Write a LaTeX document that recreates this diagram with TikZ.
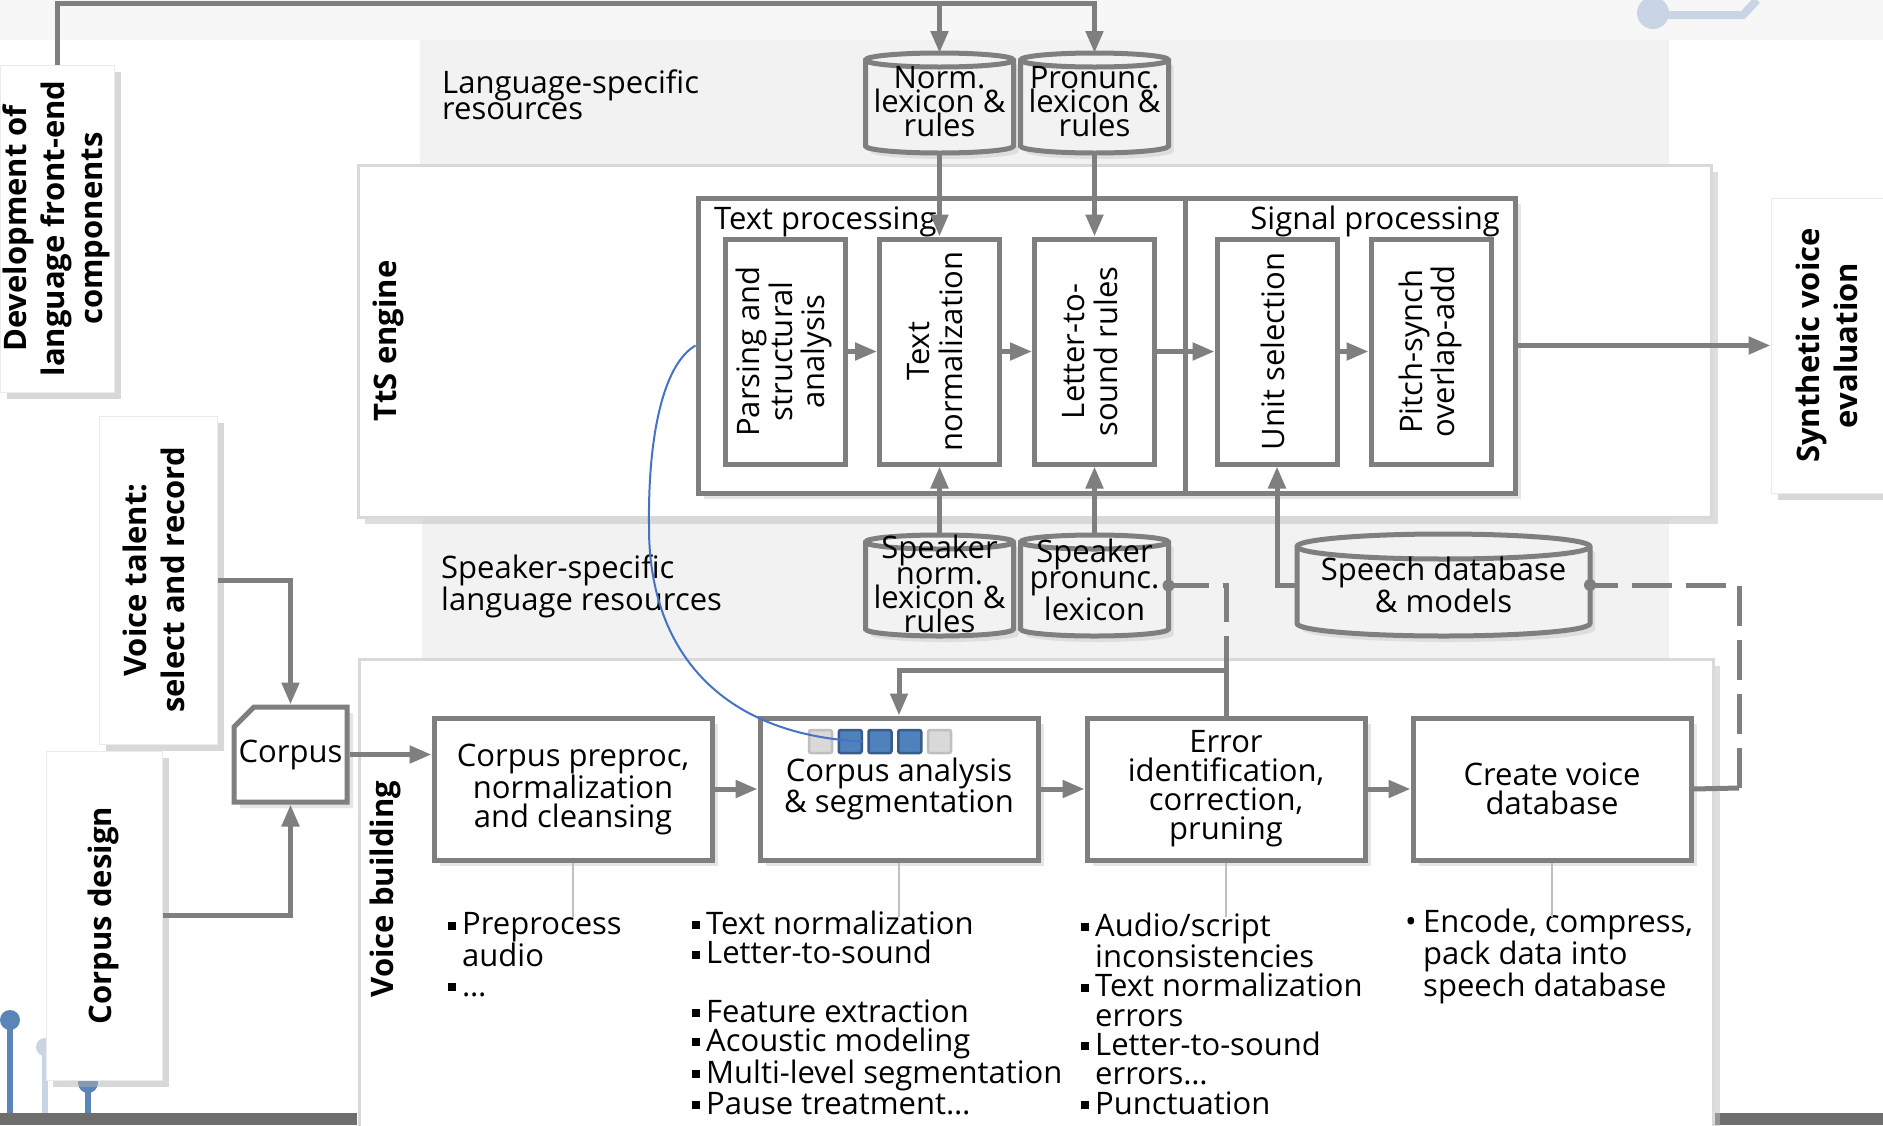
\documentclass[tikz,border=0pt]{standalone}
\usepackage{fontspec}
\usepackage{graphicx}
\setmainfont{Open Sans}
\usetikzlibrary{arrows.meta,shadows}

\definecolor{linegray}{HTML}{7F7F7F}
\definecolor{bandgray}{HTML}{F2F2F2}
\definecolor{topgray}{HTML}{F7F7F7}
\definecolor{framegray}{HTML}{D9D9D9}
\definecolor{tickgray}{HTML}{BFBFBF}
\definecolor{curveblue}{HTML}{4472C4}
\definecolor{sqblue}{HTML}{4F81BD}
\definecolor{sqblueborder}{HTML}{385D8A}
\definecolor{decoblue}{HTML}{5B84B8}
\definecolor{decolight}{HTML}{C9D5E4}
\definecolor{bargray}{HTML}{6E6E6E}

\newcommand{\vtext}[1]{\rotatebox{90}{\begin{tabular}{@{}c@{}}#1\end{tabular}}}
\newcommand{\sqbullet}{\rule[5pt]{8pt}{8pt}\hspace{6pt}}
\newcommand{\rdbullet}{\makebox[18pt][l]{•}}
% database drum drawn round a named node: name, x radius, y radius
\newcommand{\drum}[3]{%
    \draw[wire, fill=bandgray, drop shadow={shadow xshift=5pt, shadow yshift=-6pt, fill=black!20}]
        ([yshift=-#3]#1.north west) -- ([yshift=#3]#1.south west)
        arc[start angle=180, end angle=360, x radius=#2, y radius=#3]
        -- ([yshift=-#3]#1.north east)
        arc[start angle=0, end angle=180, x radius=#2, y radius=#3] -- cycle;
    \draw[wire] ([yshift=-#3]#1.north west) arc[start angle=180, end angle=360, x radius=#2, y radius=#3];}

\begin{document}
\begin{tikzpicture}[x=1pt, y=-1pt, >={Triangle[length=22pt,width=17pt]},
    every node/.style={font=\fontsize{31}{29}\selectfont, inner sep=0pt},
    wire/.style={draw=linegray, line width=5pt},
    dashwire/.style={wire, dash pattern=on 40pt off 14pt},
    tickline/.style={draw=tickgray, line width=1.5pt},
    bigframe/.style={draw=framegray, line width=3pt, fill=white,
        drop shadow={shadow xshift=7pt, shadow yshift=-7pt, fill=black!25}},
    labelbox/.style={draw=black!8, line width=1pt, fill=white,
        font=\bfseries\fontsize{31}{38}\selectfont,
        drop shadow={shadow xshift=7pt, shadow yshift=-7pt, fill=black!30}},
    sectext/.style={rotate=90, font=\bfseries\fontsize{31}{38}\selectfont},
    procbox/.style={draw=linegray, line width=5pt, fill=white, align=center,
        minimum width=278, minimum height=142,
        drop shadow={shadow xshift=6pt, shadow yshift=-6pt, fill=black!20}},
    subbox/.style={draw=linegray, line width=5pt, fill=white,
        minimum width=120, minimum height=225, font=\fontsize{31}{30}\selectfont},
    dbspot/.style={outer sep=0pt},
    cyltext/.style={anchor=base, align=center, font=\fontsize{31}{24}\selectfont},
    bandtext/.style={anchor=base west, align=left, font=\fontsize{31}{24}\selectfont},
    listtext/.style={anchor=base west, align=left, font=\fontsize{31}{29.3}\selectfont},
    sqon/.style={draw=sqblueborder, fill=sqblue, line width=2.5pt, minimum size=23pt, rounded corners=2pt},
    sqoff/.style={draw=tickgray, fill=framegray, line width=2.5pt, minimum size=23pt, rounded corners=2pt}]

    % Background
    \fill[white] (0,0) rectangle (1883,1125);
    \useasboundingbox (0,0) rectangle (1883,1125);
    \fill[topgray] (0,0) rectangle (1883,40);
    \fill[decolight] (1653,13) circle (16);
    \draw[decolight, line width=8pt] (1653,15) -- (1743,15) -- (1757,0);
    \draw[decoblue, line width=6pt] (10,1020) -- (10,1125);
    \fill[decoblue] (10,1020) circle (10);
    \draw[decolight, line width=6pt] (45,1047) -- (45,1113);
    \fill[decolight] (45,1047) circle (9);
    \draw[decoblue, line width=6pt] (88,1083) -- (88,1113);
    \fill[decoblue] (88,1083) circle (10);
    \fill[bargray] (0,1113) rectangle (357,1125);
    \fill[bargray] (1714,1113) rectangle (1883,1125);
    \fill[bandgray] (420,40) rectangle (1669,165);
    \fill[bandgray] (422,517) rectangle (1669,659);

    % Frames
    \node[bigframe, minimum width=1353, minimum height=352] at (1034.5,341) (ttsbox) {};
    \node[bigframe, minimum width=1354, minimum height=476] at (1036,897) (vbbox) {};
    \node[sectext] at (388,341) (ttslabel) {TtS engine};
    \node[sectext] at (385,889) (vblabel) {Voice building};
    \node[bandtext] at (442,119) (langres) {Language-specific\\resources};
    \node[bandtext] at (441,610) (spkres) {Speaker-specific\\language resources};

    % Side boxes
    \node[labelbox, minimum width=114, minimum height=327] at (57,228.5) (devbox)
        {\vtext{Development of\\language front-end\\components}};
    \node[labelbox, minimum width=118, minimum height=328] at (158,580) (talentbox)
        {\vtext{Voice talent:\\select and record}};
    \node[labelbox, minimum width=116, minimum height=329] at (104,915.5) (designbox)
        {\vtext{Corpus design}};
    \node[labelbox, minimum width=119, minimum height=295] at (1830.5,345.5) (synthbox)
        {\vtext{Synthetic voice\\evaluation}};

    % TtS engine
    \node[draw=linegray, line width=5pt, fill=white, minimum width=817, minimum height=295,
        drop shadow={shadow xshift=6pt, shadow yshift=-6pt, fill=black!20}] at (1106.5,345.5) (innerbox) {};
    \draw[wire] (1185,198) -- (1185,493);
    \node[anchor=base west] at (714,229) (textproc) {Text processing};
    \node[anchor=base east] at (1500,229) (sigproc) {Signal processing};
    \node[subbox] at (785,351.5) (parsing) {\vtext{Parsing and\\structural\\analysis}};
    \node[subbox] at (939.5,351.5) (textnorm) {\vtext{Text\\normalization}};
    \node[subbox] at (1094.5,351.5) (l2s) {\vtext{Letter-to-\\sound rules}};
    \node[subbox] at (1277,351.5) (unitsel) {\vtext{Unit selection}};
    \node[subbox] at (1431,351.5) (pitch) {\vtext{Pitch-synch\\overlap-add}};

    % Resources
    \node[dbspot, minimum width=148, minimum height=100] at (939.5,103) (normlex) {};
    \node[dbspot, minimum width=148, minimum height=100] at (1094.5,103) (pronlex) {};
    \node[dbspot, minimum width=148, minimum height=101] at (939.5,585.5) (spknorm) {};
    \node[dbspot, minimum width=148, minimum height=101] at (1094.5,585.5) (spkpron) {};
    \node[dbspot, minimum width=293, minimum height=102] at (1443.5,585) (speechdb) {};
    \drum{normlex}{74pt}{7pt}
    \drum{pronlex}{74pt}{7pt}
    \drum{spknorm}{74pt}{7pt}
    \drum{spkpron}{74pt}{7pt}
    \drum{speechdb}{146.5pt}{12.5pt}
    \node[cyltext] at (939.5,136) (normlextext) {Norm.\\lexicon \&\\rules};
    \node[cyltext] at (1094.5,136) (pronlextext) {Pronunc.\\lexicon \&\\rules};
    \node[cyltext] at (939.5,632) (spknormtext) {Speaker\\norm.\\lexicon \&\\rules};
    \node[cyltext] at (1094.5,620) (spkprontext) {Speaker\\pronunc.\\lexicon};
    \node[cyltext, font=\fontsize{31}{29}\selectfont] at (1443.5,612) (speechdbtext) {Speech database\\\& models};

    % Voice building
    \draw[wire, fill=white, drop shadow={shadow xshift=6pt, shadow yshift=-6pt, fill=black!20}]
        (254,707) -- (347,707) -- (347,802) -- (234,802) -- (234,727) -- cycle;
    \node[minimum width=113, minimum height=95, outer sep=2.5pt] at (290.5,754.5) (corpus) {\raisebox{-10pt}{Corpus}};
    \node[procbox] at (573,789) (preproc) {Corpus preproc,\\normalization\\and cleansing};
    \node[procbox] at (899,789) (analysis) {Corpus analysis\\\& segmentation};
    \node[procbox] at (1226,789) (error) {Error\\identification,\\correction,\\pruning};
    \node[procbox] at (1552,789) (create) {Create voice\\database};
    \foreach \i/\sqstyle in {1/sqoff,2/sqon,3/sqon,4/sqon,5/sqoff}
        \node[\sqstyle] at ({790.75+29.75*\i},741.5) (sq\i) {};

    % Lists
    \node[listtext] at (448,996) (preproclist)
        {\sqbullet Preprocess\\\phantom{\sqbullet}audio\\\sqbullet …};
    \node[listtext] at (692,1114) (analysislist)
        {\sqbullet Text normalization\\\sqbullet Letter-to-sound\\[29.3pt]\sqbullet Feature extraction\\\sqbullet Acoustic modeling\\\sqbullet Multi-level segmentation\\\sqbullet Pause treatment…};
    \node[listtext] at (1081,1114) (errorlist)
        {\sqbullet Audio/script\\\phantom{\sqbullet}inconsistencies\\\sqbullet Text normalization\\\phantom{\sqbullet}errors\\\sqbullet Letter-to-sound\\\phantom{\sqbullet}errors…\\\sqbullet Punctuation};
    \node[listtext] at (1405,996) (createlist)
        {\rdbullet Encode, compress,\\\phantom{\rdbullet}pack data into\\\phantom{\rdbullet}speech database};

    % Edges
    \coordinate (topline) at (56,3);
    \draw[wire, ->] (devbox.north) |- (pronlex.north |- topline) -- (pronlex.north);
    \draw[wire, ->] (normlex.north |- topline) -- (normlex.north);
    \draw[wire, ->] (normlex.south) -- (textnorm.north);
    \draw[wire, ->] (pronlex.south) -- (l2s.north);
    \draw[wire, ->] (spknorm.north) -- (textnorm.south);
    \draw[wire, ->] (spkpron.north) -- (l2s.south);
    \draw[wire, ->] (speechdb.west) -| (unitsel.south);
    \draw[wire, ->] (parsing.east) -- (textnorm.west);
    \draw[wire, ->] (textnorm.east) -- (l2s.west);
    \draw[wire, ->] (l2s.east) -- (unitsel.west);
    \draw[wire, ->] (unitsel.east) -- (pitch.west);
    \draw[wire, ->] (innerbox.east) -- (synthbox.west);

    \draw[wire, ->] (talentbox.east) -| (corpus.north);
    \draw[wire, ->] (designbox.east) -| (corpus.south);
    \draw[wire, ->] (corpus.east) -- (corpus.east -| preproc.west);
    \draw[wire, ->] (preproc) -- (analysis);
    \draw[wire, ->] (analysis) -- (error);
    \draw[wire, ->] (error) -- (create);

    \coordinate (looptop) at (1226,670);
    \draw[wire, ->] (error.north) |- (looptop) -| (analysis.north);
    \draw[dashwire] (spkpron.east) -| (looptop);
    \coordinate (dbturn) at (1739,788);
    \draw[wire] (create.east) -- (dbturn);
    \draw[dashwire] (dbturn) |- (speechdb.east);
    \fill[linegray] (spkpron.east) circle (6);
    \fill[linegray] (speechdb.east) circle (6);

    \draw[tickline] (preproc.south) -- ++(0,54);
    \draw[tickline] (analysis.south) -- ++(0,54);
    \draw[tickline] (error.south) -- ++(0,54);
    \draw[tickline] (create.south) -- ++(0,54);

    \draw[curveblue, line width=2pt] (innerbox.west) .. controls (662,365) and (648,440) .. (649,525)
        .. controls (648,650) and (720,735) .. (sq2.east);
\end{tikzpicture}
\end{document}
